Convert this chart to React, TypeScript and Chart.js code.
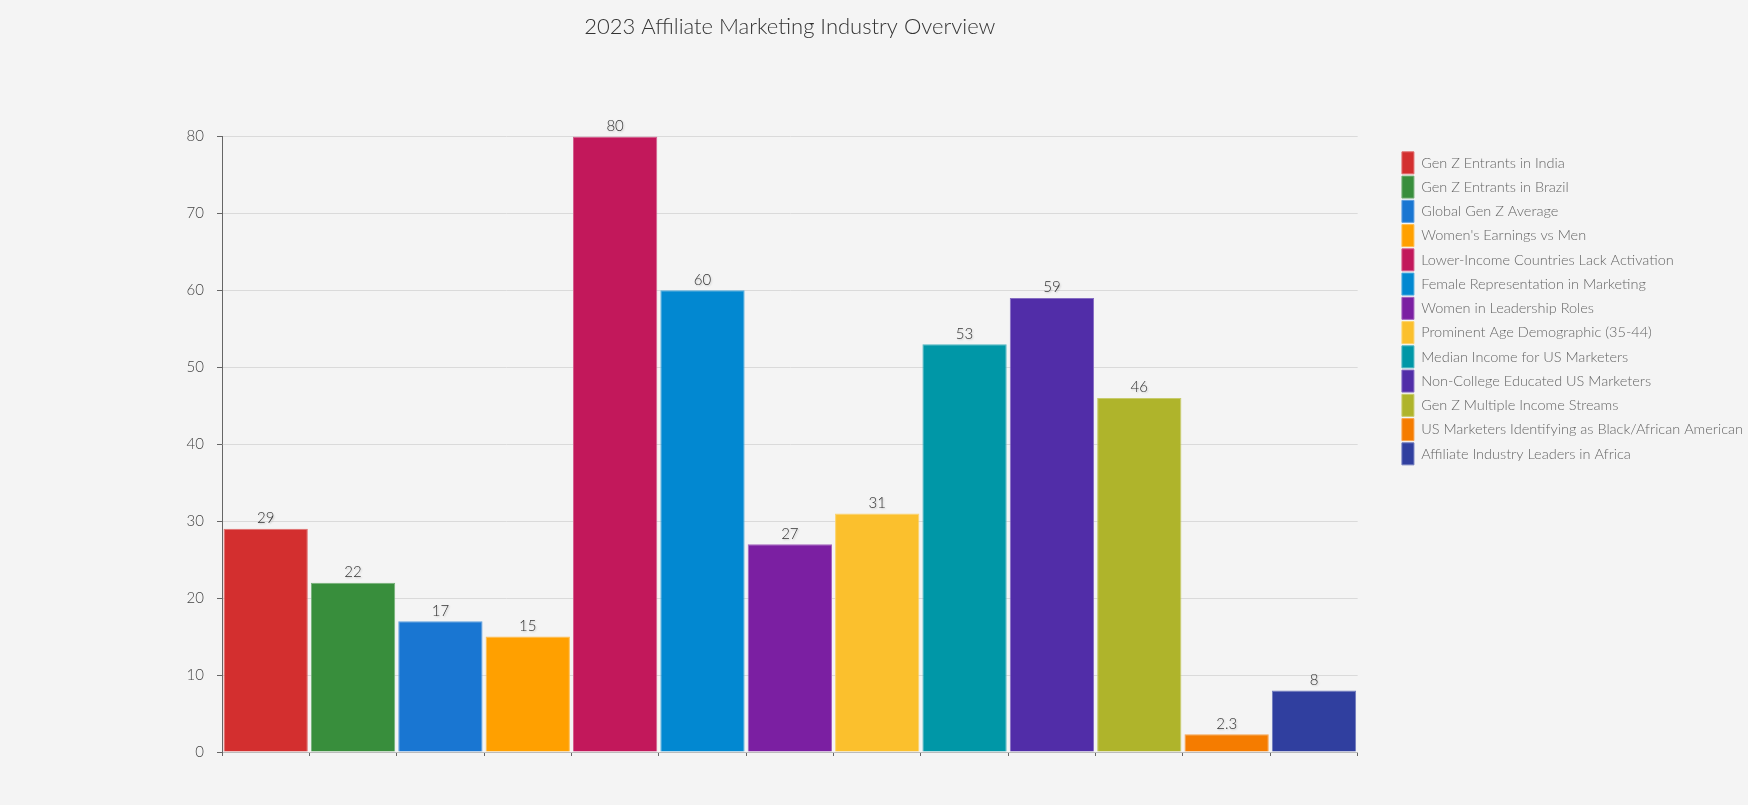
import React, { useEffect, useRef } from 'react';
import { Chart, registerables } from 'chart.js';

Chart.register(...registerables);

const TITLE = '2023 Affiliate Marketing Industry Overview';

const categories = [
  'Gen Z Entrants in India',
  'Gen Z Entrants in Brazil',
  'Global Gen Z Average',
  "Women's Earnings vs Men",
  'Lower-Income Countries Lack Activation',
  'Female Representation in Marketing',
  'Women in Leadership Roles',
  'Prominent Age Demographic (35-44)',
  'Median Income for US Marketers',
  'Non-College Educated US Marketers',
  'Gen Z Multiple Income Streams',
  'US Marketers Identifying as Black/African American',
  'Affiliate Industry Leaders in Africa',
];

const values = [29, 22, 17, 15, 80, 60, 27, 31, 53, 59, 46, 2.3, 8];

const colors = [
  '#d32f2f', '#388e3c', '#1976d2', '#ffa000', '#c2185b', '#0288d1', '#7b1fa2',
  '#fbc02d', '#0097a7', '#512da8', '#afb42b', '#f57c00', '#303f9f',
];

const Y_MIN = 0;
const Y_MAX = 80;
const Y_STEP = 10;

const FONT = 'Lato, "Open Sans", sans-serif';

function lighten(hex: string, amt: number) {
  const n = parseInt(hex.slice(1), 16);
  const r = (n >> 16) & 255;
  const g = (n >> 8) & 255;
  const b = n & 255;
  const m = (c: number) => Math.round(c + (255 - c) * amt);
  return `rgb(${m(r)},${m(g)},${m(b)})`;
}

const valueLabels = {
  id: 'valueLabels',
  afterDatasetsDraw(chart: any) {
    const ctx = chart.ctx;
    const meta = chart.getDatasetMeta(0);
    ctx.save();
    ctx.font = `300 15px ${FONT}`;
    ctx.fillStyle = '#333';
    ctx.textAlign = 'center';
    ctx.textBaseline = 'bottom';
    ctx.shadowColor = 'rgba(0,0,0,0.18)';
    ctx.shadowBlur = 2;
    ctx.shadowOffsetX = 1;
    ctx.shadowOffsetY = 1;
    meta.data.forEach((bar: any, i: number) => {
      ctx.fillText(String(values[i]), bar.x, bar.y - 3);
    });
    ctx.restore();
  },
};

export default function App() {
  const ref = useRef<HTMLCanvasElement | null>(null);

  useEffect(() => {
    document.body.style.margin = '0';
    document.body.style.background = '#f4f4f4';
    document.body.style.overflow = 'hidden';
    if (!ref.current) return;
    const borders = colors.map((c) => lighten(c, 0.3));
    const chart = new Chart(ref.current, {
      type: 'bar',
      data: {
        labels: categories,
        datasets: [
          {
            data: values,
            backgroundColor: colors,
            borderColor: borders,
            borderWidth: 1,
            barPercentage: 0.965,
            categoryPercentage: 1,
          },
        ],
      },
      plugins: [valueLabels],
      options: {
        animation: false,
        responsive: true,
        maintainAspectRatio: false,
        layout: { padding: { left: 0, top: 0, bottom: 0, right: -5 } },
        plugins: {
          tooltip: { enabled: false },
          title: {
            display: true,
            text: TITLE,
            fullSize: false,
            color: '#333',
            font: { family: FONT, size: 22, weight: '300' },
            padding: { top: 14, bottom: 96 },
          },
          legend: {
            display: true,
            position: 'right',
            align: 'start',
            fullSize: false,
            maxWidth: 420,
            title: {
              display: true,
              text: '',
              font: { size: 1 },
              padding: { top: 12, bottom: 0 },
            },
            labels: {
              boxWidth: 12,
              boxHeight: 22,
              padding: 2.25,
              color: '#555',
              font: { family: FONT, size: 14.5, weight: '300' },
              generateLabels: () =>
                categories.map((t, i) => ({
                  text: t,
                  fillStyle: colors[i],
                  strokeStyle: borders[i],
                  lineWidth: 1,
                  hidden: false,
                  index: i,
                  datasetIndex: 0,
                })),
            },
          },
        },
        scales: {
          x: {
            grid: {
              display: true,
              offset: true,
              drawOnChartArea: false,
              tickLength: 4,
              tickColor: '#666',
            },
            border: { display: true, color: '#bbb' },
            ticks: { display: false },
            afterFit: (s: any) => {
              s.height = 53;
            },
          },
          y: {
            min: Y_MIN,
            max: Y_MAX,
            ticks: {
              stepSize: Y_STEP,
              color: '#444',
              padding: 13,
              font: { family: FONT, size: 15, weight: '300' },
            },
            grid: { color: '#dadada', tickLength: 5, tickColor: '#666' },
            border: { display: true, color: '#666' },
            afterFit: (s: any) => {
              s.width = 222;
            },
          },
          spacer: {
            type: 'linear',
            position: 'right',
            display: true,
            grid: { display: false },
            border: { display: false },
            ticks: { display: false },
            afterFit: (s: any) => {
              s.width = 42;
            },
          },
        },
      } as any,
    });
    return () => chart.destroy();
  }, []);

  return (
    <div style={{ width: '1748px', height: '805px', position: 'relative' }}>
      <canvas ref={ref} />
    </div>
  );
}
